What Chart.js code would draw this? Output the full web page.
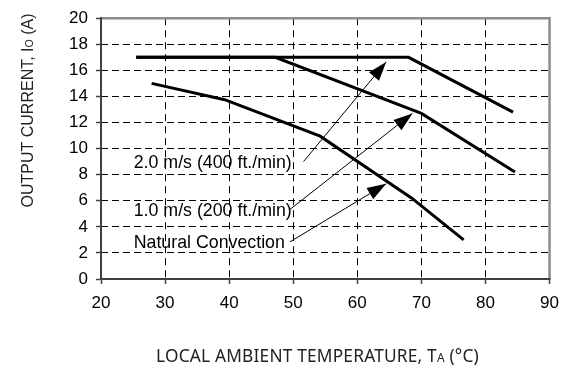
<!DOCTYPE html>
<html>
<head>
<meta charset="utf-8">
<script src="https://cdn.jsdelivr.net/npm/chart.js@4.4.1/dist/chart.umd.min.js"></script>
<style>
  html, body { margin: 0; padding: 0; background: #fff; }
</style>
</head>
<body>
<canvas id="chart" width="568" height="367"></canvas>
<script>
// derating curves (temperature in degC, current in A)
const curveNames = ['2.0 m/s (400 ft./min)', '1.0 m/s (200 ft./min)', 'Natural Convection'];
const temp20 = [25.5, 68, 84.3];
const amps20 = [17, 17, 12.8];
const temp10 = [25.5, 47.2, 70, 84.6];
const amps10 = [17, 17, 12.7, 8.2];
const tempNat = [27.9, 39.3, 54.2, 68.5, 76.6];
const ampsNat = [15, 13.75, 10.95, 6.2, 3];

// arrows from each label to its curve
const arrowFromT = [51.6, 49.4, 49.5];
const arrowFromI = [9.0, 5.3, 2.85];
const arrowToT = [64.5, 68.6, 64.5];
const arrowToI = [16.65, 12.7, 7.3];

// tick labels
const xTicks = [20, 30, 40, 50, 60, 70, 80, 90];
const yTicks = [0, 2, 4, 6, 8, 10, 12, 14, 16, 18, 20];

const labelStartT = 25.1; // labels are left aligned at this temperature

const pts = (xs, ys) => xs.map((v, i) => ({ x: v, y: ys[i] }));

const curve = (name, xs, ys) => ({
    label: name,
    data: pts(xs, ys),
    borderColor: '#000',
    borderWidth: 3,
    pointRadius: 0,
    tension: 0,
    borderJoinStyle: 'miter'
});

const arrows = curveNames.map((name, i) => ({
    label: 'arrow ' + name,
    data: [{ x: arrowFromT[i], y: arrowFromI[i] }, { x: arrowToT[i], y: arrowToI[i] }],
    borderColor: '#000',
    borderWidth: 1,
    pointRadius: 0,
    isArrow: true
}));

const font = 'Liberation Sans, Arial, sans-serif';

// draw frame, arrow heads, labels and titles
const extras = {
    id: 'extras',
    afterDraw(chart) {
        const { ctx, chartArea: a, scales } = chart;
        ctx.save();

        ctx.lineWidth = 2.5;
        ctx.strokeStyle = '#8c8c8c';
        ctx.beginPath();
        ctx.moveTo(a.left, a.top);
        ctx.lineTo(a.right, a.top);
        ctx.lineTo(a.right, a.bottom);
        ctx.stroke();
        ctx.lineWidth = 2;
        ctx.strokeStyle = '#404040';
        ctx.beginPath();
        ctx.moveTo(a.left, a.top - 1);
        ctx.lineTo(a.left, a.bottom);
        ctx.lineTo(a.right + 1, a.bottom);
        ctx.stroke();

        // arrow heads
        ctx.fillStyle = '#000';
        chart.data.datasets.forEach((ds, i) => {
            if (!ds.isArrow) return;
            const p = chart.getDatasetMeta(i).data;
            const tail = p[0], tip = p[1];
            const ang = Math.atan2(tip.y - tail.y, tip.x - tail.x);
            const len = 19, half = 6.5;
            const bx = tip.x - len * Math.cos(ang), by = tip.y - len * Math.sin(ang);
            ctx.beginPath();
            ctx.moveTo(tip.x, tip.y);
            ctx.lineTo(bx + half * Math.sin(ang), by - half * Math.cos(ang));
            ctx.lineTo(bx - half * Math.sin(ang), by + half * Math.cos(ang));
            ctx.closePath();
            ctx.fill();
        });

        // curve labels
        ctx.font = '17.8px ' + font;
        ctx.textAlign = 'left';
        ctx.textBaseline = 'middle';
        curveNames.forEach((name, i) => {
            const px = scales.x.getPixelForValue(labelStartT);
            const py = scales.y.getPixelForValue(arrowFromI[i]) + 1.5;
            ctx.fillText(name, px, py);
        });

        // axis titles with small subscripts
        const drawParts = (parts, cx, baseY) => {
            let w = 0;
            parts.forEach(p => { ctx.font = p.f; w += ctx.measureText(p.t).width; });
            let x0 = cx - w / 2;
            ctx.textAlign = 'left';
            ctx.textBaseline = 'alphabetic';
            parts.forEach(p => {
                ctx.font = p.f;
                ctx.fillText(p.t, x0, baseY);
                x0 += ctx.measureText(p.t).width;
            });
        };
        ctx.fillStyle = '#222';
        ctx.save();
        ctx.translate(33, 110.5);
        ctx.rotate(-Math.PI / 2);
        drawParts([
            { t: 'OUTPUT CURRENT, I', f: '16px ' + font },
            { t: 'O', f: '10.5px ' + font },
            { t: ' (A)', f: '16px ' + font }
        ], 0, 0);
        ctx.restore();

        const tf = '"Noto Sans", sans-serif';
        ctx.letterSpacing = '0.2px';
        drawParts([
            { t: 'LOCAL AMBIENT TEMPERATURE, T', f: '17.3px ' + tf },
            { t: 'A', f: '12px ' + tf },
            { t: ' (°C)', f: '17.3px ' + tf }
        ], 317.5, 362);

        ctx.restore();
    }
};

const gridOpts = {
    color: '#000',
    lineWidth: 1,
    tickLength: 5,
    tickBorderDash: [],
    tickColor: '#404040',
    tickWidth: 1.5
};

const tickFont = { family: font, size: 17 };

new Chart(document.getElementById('chart'), {
    type: 'line',
    data: {
        datasets: [
            curve(curveNames[0], temp20, amps20),
            curve(curveNames[1], temp10, amps10),
            curve(curveNames[2], tempNat, ampsNat),
            ...arrows
        ]
    },
    options: {
        responsive: false,
        animation: false,
        layout: { padding: { top: 16, right: 11, left: 0, bottom: 0 } },
        plugins: { legend: { display: false }, tooltip: { enabled: false } },
        scales: {
            x: {
                type: 'linear',
                min: xTicks[0],
                max: xTicks[xTicks.length - 1],
                ticks: { stepSize: xTicks[1] - xTicks[0], color: '#000', padding: 9, font: tickFont },
                grid: gridOpts,
                border: { display: false, dash: [7, 5] },
                afterFit: (s) => { s.height = 88; }
            },
            y: {
                min: yTicks[0],
                max: yTicks[yTicks.length - 1],
                ticks: { stepSize: yTicks[1] - yTicks[0], color: '#000', padding: 8, font: tickFont },
                grid: gridOpts,
                border: { display: false, dash: [7, 4] },
                afterFit: (s) => { s.width = 101; }
            }
        }
    },
    plugins: [extras]
});
</script>
</body>
</html>
